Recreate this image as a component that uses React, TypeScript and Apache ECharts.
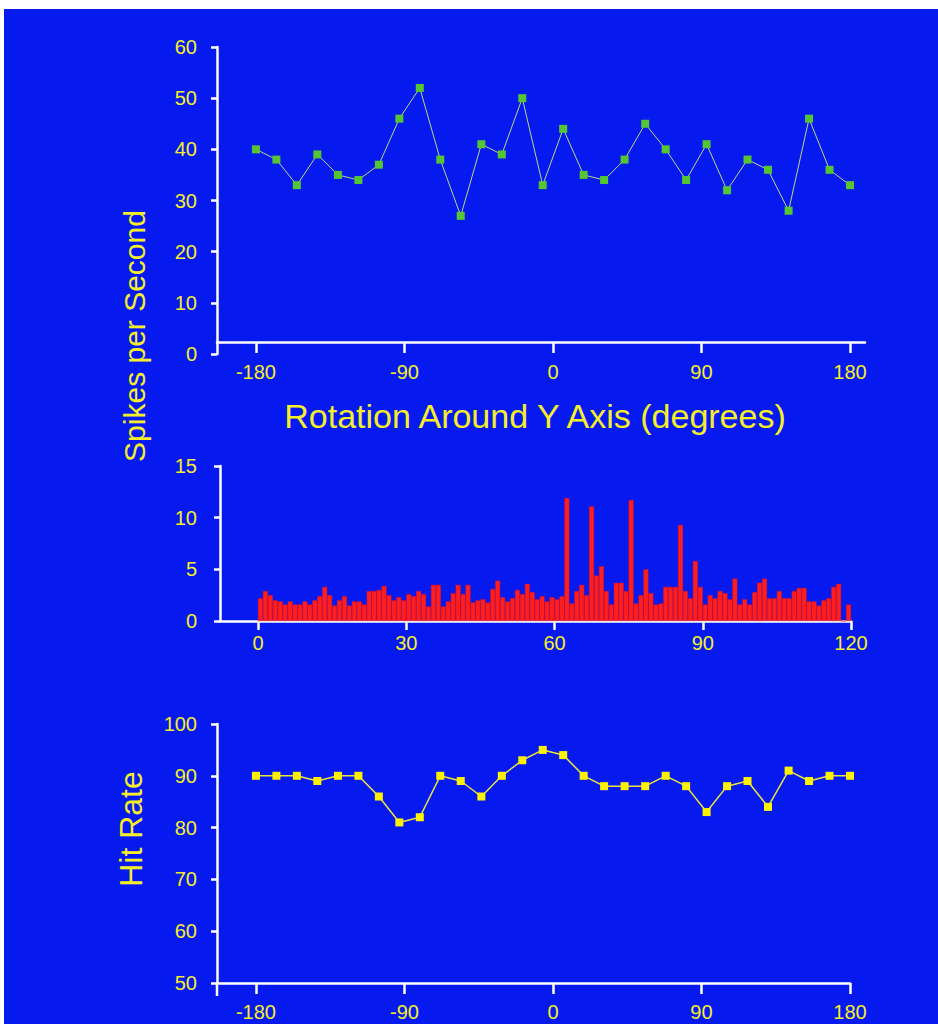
import React, { useEffect, useRef } from 'react';
import * as echarts from 'echarts';

// Angle ticks (degrees) for the rotation panels
const angleTicks = [-180, -90, 0, 90, 180];
// Rotation angles at which responses were sampled (30 points spanning -180..180)
const angles = [
  -180, -167.6, -155.2, -142.8, -130.3, -117.9, -105.5, -93.1, -80.7, -68.3,
  -55.9, -43.4, -31.0, -18.6, -6.2, 6.2, 18.6, 31.0, 43.4, 55.9,
  68.3, 80.7, 93.1, 105.5, 117.9, 130.3, 142.8, 155.2, 167.6, 180,
];
const spikesPerSecond = [
  40, 38, 33, 39, 35, 34, 37, 46, 52, 38,
  27, 41, 39, 50, 33, 44, 35, 34, 38, 45,
  40, 34, 41, 32, 38, 36, 28, 46, 36, 33,
];
const hitRate = [
  90, 90, 90, 89, 90, 90, 86, 81, 82, 90,
  89, 86, 90, 93, 95, 94, 90, 88, 88, 88,
  90, 88, 83, 88, 89, 84, 91, 89, 90, 90,
];
const histTicks = [0, 30, 60, 90, 120];
const histCounts = [
  2.2, 2.9, 2.5, 2.0, 1.9, 1.6, 1.9, 1.6, 1.6, 1.9,
  1.6, 2.0, 2.4, 3.3, 2.5, 1.5, 2.0, 2.4, 1.5, 1.9,
  1.9, 1.6, 2.9, 2.9, 3.0, 3.4, 2.5, 2.0, 2.3, 2.0,
  2.6, 2.4, 2.9, 2.6, 1.4, 3.5, 3.5, 1.4, 1.9, 2.7,
  3.5, 2.6, 3.5, 1.8, 2.0, 2.1, 1.8, 3.1, 3.9, 2.3,
  1.9, 2.2, 3.0, 2.6, 3.6, 2.8, 2.1, 2.4, 1.9, 2.3,
  2.1, 2.4, 11.9, 1.7, 2.9, 3.5, 2.5, 11.1, 4.4, 5.3,
  2.9, 1.6, 3.7, 3.7, 2.9, 11.7, 1.7, 2.5, 5.0, 2.7,
  1.6, 1.7, 3.3, 3.3, 3.3, 9.3, 2.9, 2.2, 5.8, 3.3,
  1.6, 2.5, 2.2, 2.9, 2.7, 2.1, 4.1, 1.6, 2.1, 1.6,
  2.8, 3.7, 4.1, 2.2, 2.2, 2.9, 2.2, 2.2, 2.9, 3.2,
  3.2, 1.9, 1.9, 1.5, 2.0, 2.2, 3.3, 3.6, 0, 1.6,
];

const BLUE = '#061AF0';
const YELLOW = '#F5EE28';
const WHITE = '#FFFFFF';
const FONT = '"Liberation Sans", Arial, sans-serif';

export default function App() {
  const ref = useRef<HTMLDivElement>(null);

  useEffect(() => {
    const chart = echarts.init(ref.current as HTMLDivElement, null, { renderer: 'svg' });

    const axisLine = { show: true, onZero: false, lineStyle: { color: WHITE, width: 2.5 } };
    const yTick = { show: true, length: 6, lineStyle: { color: WHITE, width: 2.5 } };
    const label = (margin: number) => ({ color: YELLOW, fontSize: 20, fontFamily: FONT, margin });

    chart.setOption({
      animation: false,
      backgroundColor: 'transparent',
      grid: [
        { left: 217, top: 47, width: 648, height: 307 },
        { left: 220, top: 466, width: 631, height: 155 },
        { left: 217, top: 724, width: 633, height: 259 },
      ],
      xAxis: [
        {
          type: 'value', gridIndex: 0, min: -203.6, max: 189.1, offset: -12,
          axisLine,
          axisTick: { show: true, length: 11, customValues: angleTicks, lineStyle: { color: WHITE, width: 2.5 } },
          axisLabel: { ...label(20), customValues: angleTicks },
          splitLine: { show: false },
        },
        {
          type: 'value', gridIndex: 1, min: -7.69, max: 120,
          axisLine,
          axisTick: { show: true, length: 9, customValues: histTicks, lineStyle: { color: WHITE, width: 2.5 } },
          axisLabel: { ...label(12), customValues: histTicks },
          splitLine: { show: false },
        },
        {
          type: 'value', gridIndex: 2, min: -203.6, max: 180,
          axisLine,
          axisTick: { show: true, length: 11, customValues: angleTicks, lineStyle: { color: WHITE, width: 2.5 } },
          axisLabel: { ...label(19), customValues: angleTicks },
          splitLine: { show: false },
        },
      ],
      yAxis: [
        {
          type: 'value', gridIndex: 0, min: 0, max: 60, interval: 10,
          axisLine, axisTick: yTick, axisLabel: label(20), splitLine: { show: false },
        },
        {
          type: 'value', gridIndex: 1, min: 0, max: 15, interval: 5,
          axisLine, axisTick: yTick, axisLabel: label(23), splitLine: { show: false },
        },
        {
          type: 'value', gridIndex: 2, min: 50, max: 100, interval: 10,
          axisLine, axisTick: yTick, axisLabel: label(20), splitLine: { show: false },
        },
      ],
      series: [
        {
          type: 'line', xAxisIndex: 0, yAxisIndex: 0,
          data: angles.map((a, i) => [a, spikesPerSecond[i]]),
          symbol: 'rect', symbolSize: 8,
          itemStyle: { color: '#55C632' },
          lineStyle: { color: '#BBD68A', width: 1 },
          z: 3,
        },
        {
          type: 'bar', xAxisIndex: 1, yAxisIndex: 1,
          data: histCounts.map((v, i) => [i + 0.5, v]),
          barWidth: 5,
          itemStyle: { color: '#FF1E1E', borderColor: '#D0102E', borderWidth: 0.5 },
        },
        {
          type: 'line', xAxisIndex: 2, yAxisIndex: 2,
          data: angles.map((a, i) => [a, hitRate[i]]),
          symbol: 'rect', symbolSize: 8,
          itemStyle: { color: '#FFF200' },
          lineStyle: { color: '#EDE340', width: 1.5 },
          z: 3,
        },
      ],
      graphic: [
        {
          type: 'rect', z: -10, silent: true,
          shape: { x: 4, y: 9, width: 934, height: 1015 },
          style: { fill: BLUE },
        },
        {
          type: 'text', x: 535, y: 416,
          style: { text: 'Rotation Around Y Axis (degrees)', fill: YELLOW, font: `34px ${FONT}`, align: 'center', verticalAlign: 'middle' },
        },
        {
          type: 'text', x: 134, y: 336, rotation: Math.PI / 2,
          style: { text: 'Spikes per Second', fill: YELLOW, font: `30px ${FONT}`, align: 'center', verticalAlign: 'middle' },
        },
        {
          type: 'text', x: 131, y: 829, rotation: Math.PI / 2,
          style: { text: 'Hit Rate', fill: YELLOW, font: `32px ${FONT}`, align: 'center', verticalAlign: 'middle' },
        },
        {
          type: 'line',
          shape: { x1: 217, y1: 983, x2: 217, y2: 996 },
          style: { stroke: WHITE, lineWidth: 2.5 },
        },
      ],
    });

    return () => chart.dispose();
  }, []);

  return (
    <div
      ref={ref}
      style={{ position: 'fixed', left: 0, top: 0, width: 938, height: 1024, background: '#FFFFFF' }}
    />
  );
}
